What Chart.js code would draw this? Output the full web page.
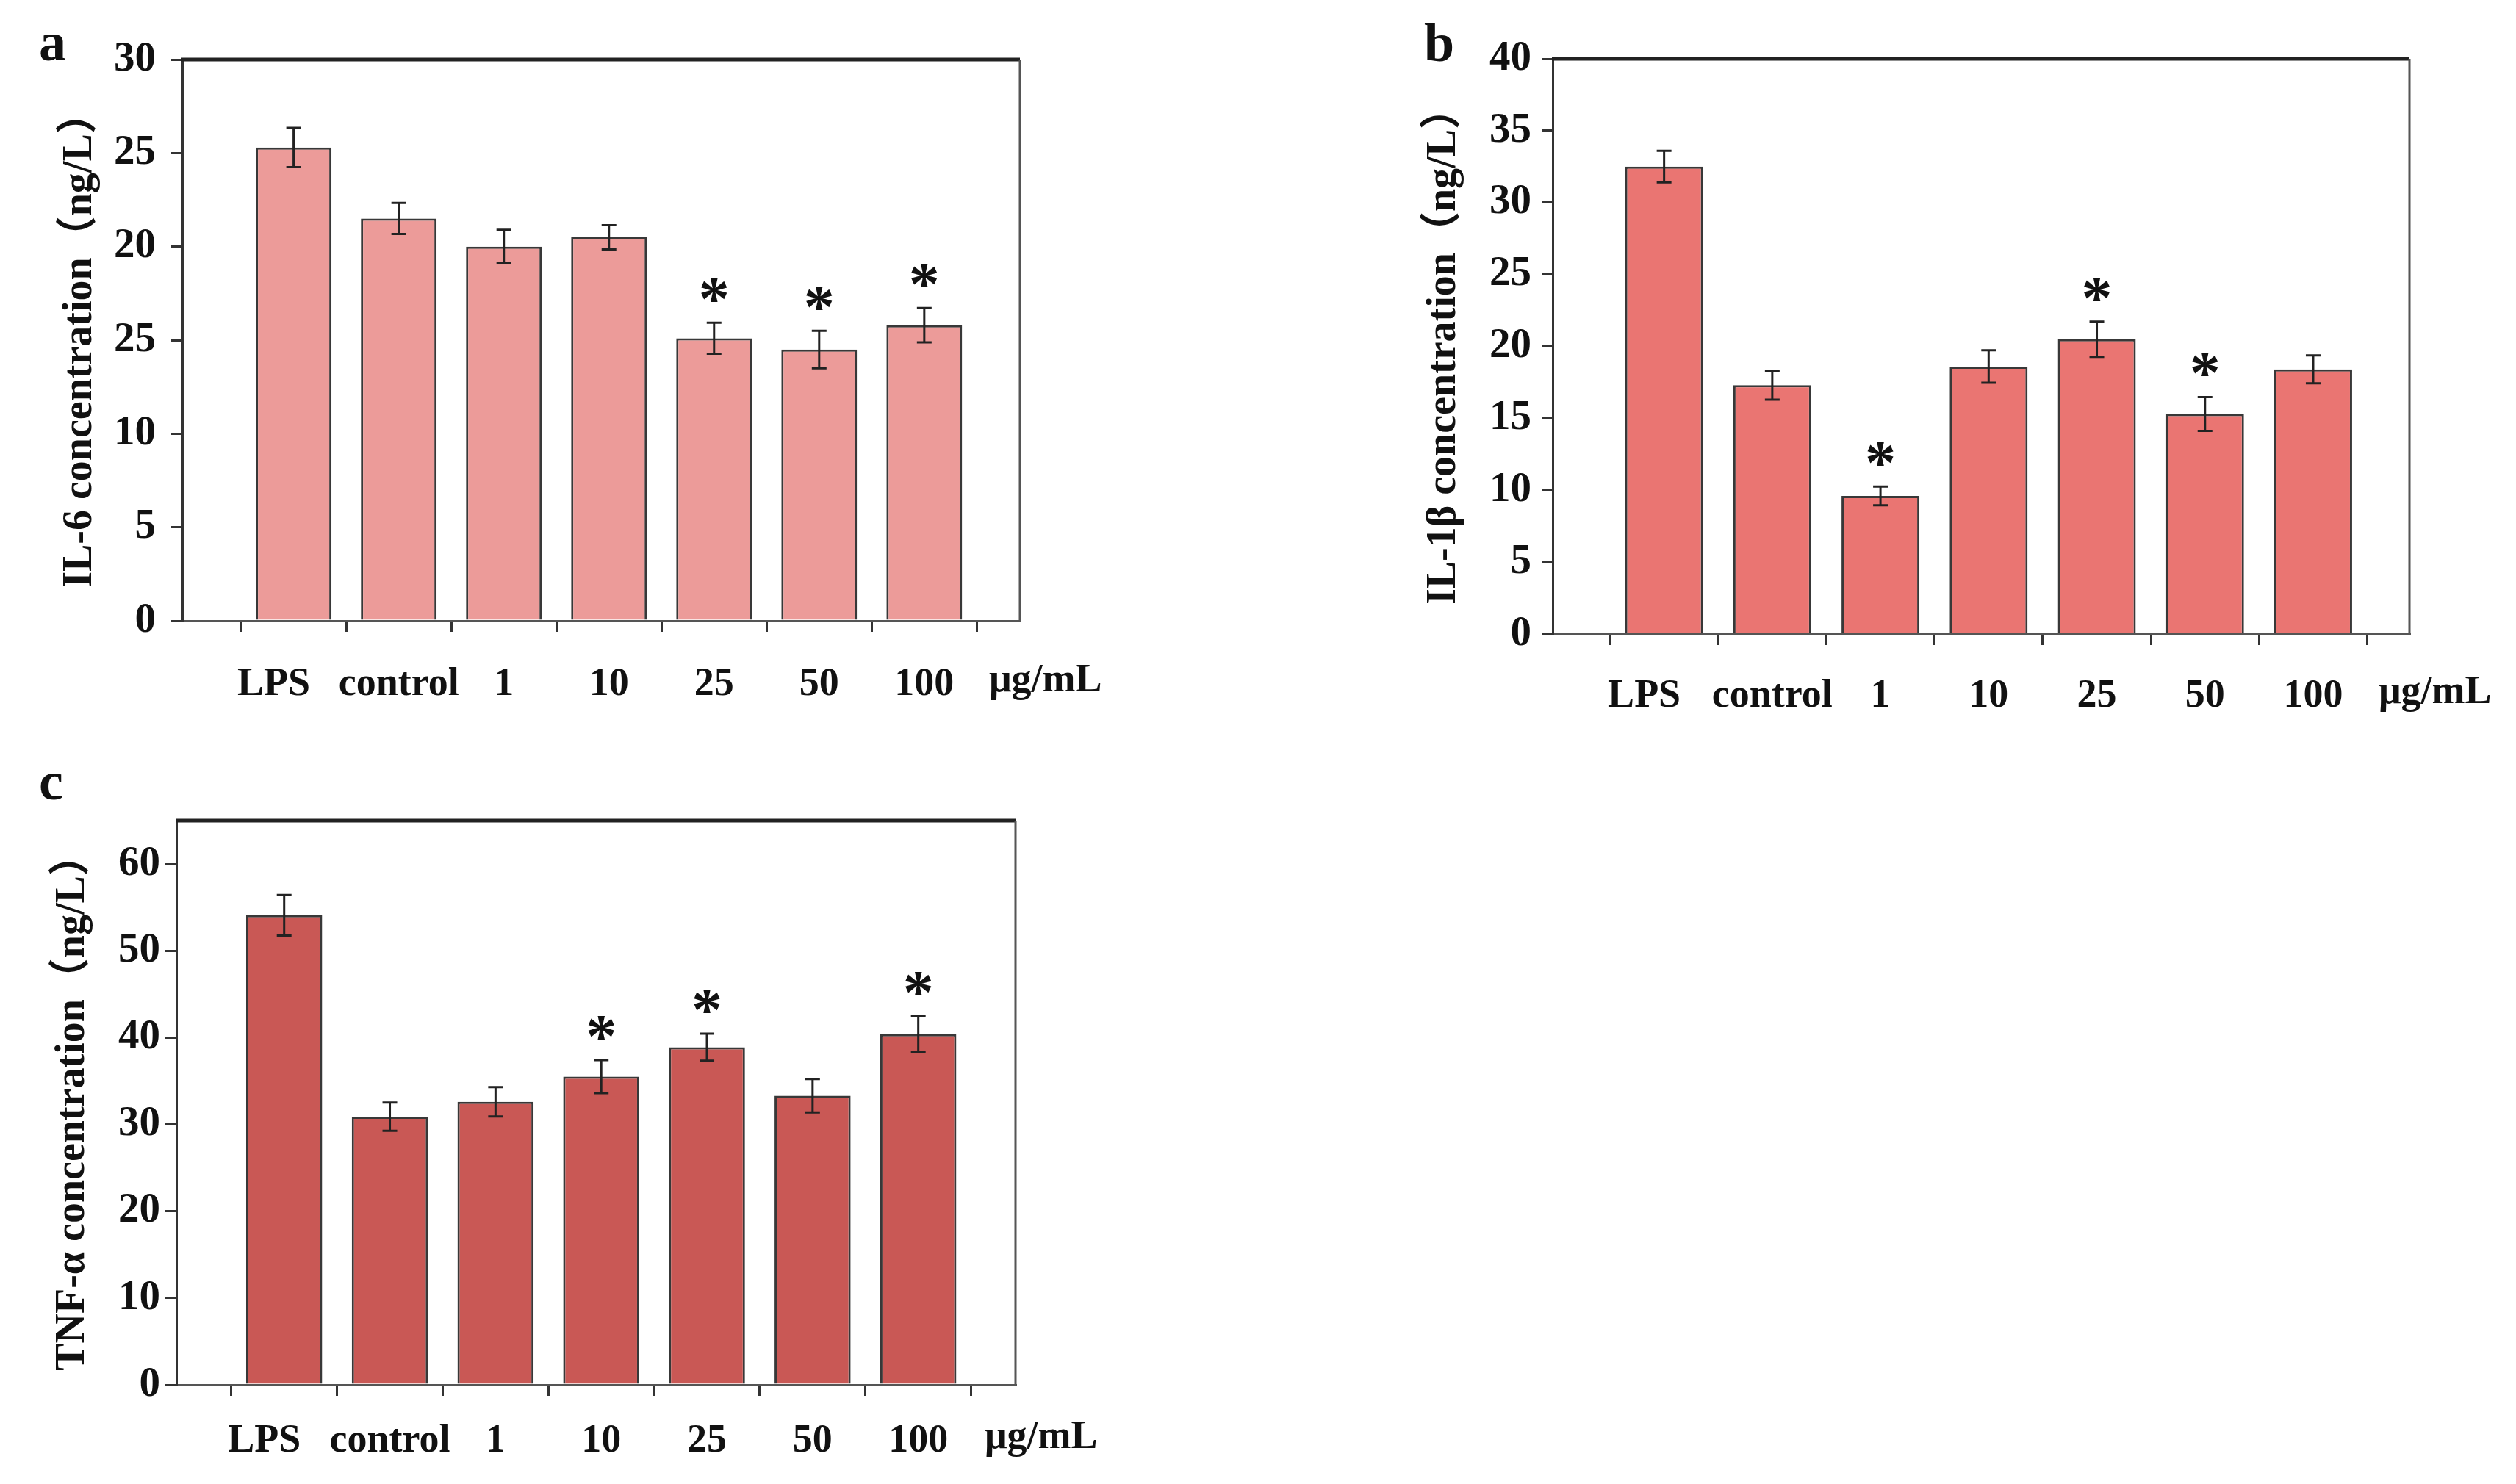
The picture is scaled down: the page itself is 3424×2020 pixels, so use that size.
<!DOCTYPE html>
<html>
<head>
<meta charset="utf-8">
<title>IL-6, IL-1β and TNF-α concentration</title>
<script src="https://cdn.jsdelivr.net/npm/chart.js"></script>
<style>
  body { margin: 0; background: #fff; width: 3424px; height: 2020px; position: relative; overflow: hidden; }
  canvas { position: absolute; }
</style>
</head>
<body>
<canvas id="chartA" width="1560" height="1010" style="left:0;top:0;width:1560px;height:1010px"></canvas>
<canvas id="chartB" width="1724" height="1010" style="left:1700px;top:0;width:1724px;height:1010px"></canvas>
<canvas id="chartC" width="1560" height="1010" style="left:0;top:1010px;width:1560px;height:1010px"></canvas>
<script>
// groups on the x axis
const groups = ['LPS', 'control', '1', '10', '25', '50', '100'];

// panel a: IL-6
const il6Mean = [25.3, 21.5, 20.0, 20.5, 15.1, 14.5, 15.8];
const il6Err = [1.05, 0.83, 0.9, 0.65, 0.83, 1.0, 0.92];
const il6Star = [0, 0, 0, 0, 1, 1, 1];
const il6Ticks = [0, 5, 10, 15, 20, 25, 30];
const il6TickLabels = ['0', '5', '10', '25', '20', '25', '30'];

// panel b: IL-1β
const il1bMean = [32.5, 17.3, 9.6, 18.6, 20.5, 15.3, 18.4];
const il1bErr = [1.1, 1.0, 0.65, 1.13, 1.23, 1.18, 0.97];
const il1bStar = [0, 0, 1, 0, 1, 1, 0];
const il1bTicks = [0, 5, 10, 15, 20, 25, 30, 35, 40];
const il1bTickLabels = ['0', '5', '10', '15', '20', '25', '30', '35', '40'];

// panel c: TNF-α
const tnfMean = [54.1, 30.9, 32.6, 35.5, 38.9, 33.3, 40.4];
const tnfErr = [2.34, 1.63, 1.69, 1.9, 1.55, 1.93, 2.07];
const tnfStar = [0, 0, 0, 1, 1, 0, 1];
const tnfTicks = [0, 10, 20, 30, 40, 50, 60];
const tnfTickLabels = ['0', '10', '20', '30', '40', '50', '60'];

const SERIF = '"Liberation Serif", "Times New Roman", "Noto Sans CJK SC", serif';
const Y_TICK_SIZE = 57;
const X_TICK_SIZE = 54;

function extrasPlugin(cfg) {
    return {
        id: 'extras',
        afterDatasetsDraw(chart) {
            const ctx = chart.ctx;
            const area = chart.chartArea;
            const x = chart.scales.x, y = chart.scales.y;
            ctx.save();

            // error bars + significance stars
            ctx.strokeStyle = '#222';
            ctx.lineWidth = 3;
            cfg.mean.forEach((m, i) => {
                const px = x.getPixelForValue(i);
                const top = y.getPixelForValue(m + cfg.err[i]);
                const bot = y.getPixelForValue(m - cfg.err[i]);
                ctx.beginPath();
                ctx.moveTo(px, top); ctx.lineTo(px, bot);
                ctx.moveTo(px - 10, top); ctx.lineTo(px + 10, top);
                ctx.moveTo(px - 10, bot); ctx.lineTo(px + 10, bot);
                ctx.stroke();
                if (cfg.star[i]) {
                    ctx.fillStyle = '#111';
                    ctx.font = 'bold 84px ' + SERIF;
                    ctx.textAlign = 'center';
                    ctx.textBaseline = 'alphabetic';
                    ctx.fillText('*', px, top - 4);
                }
            });

            // box: heavy top line, thin grey right side
            ctx.strokeStyle = '#222';
            ctx.lineWidth = 5;
            ctx.beginPath();
            ctx.moveTo(area.left - 1, area.top);
            ctx.lineTo(area.right, area.top);
            ctx.stroke();
            ctx.strokeStyle = '#555';
            ctx.lineWidth = 3;
            ctx.beginPath();
            ctx.moveTo(area.right, area.top);
            ctx.lineTo(area.right, area.bottom);
            ctx.stroke();

            // unit label and panel letter
            ctx.fillStyle = '#111';
            ctx.font = 'bold ' + X_TICK_SIZE + 'px ' + SERIF;
            ctx.textAlign = 'left';
            ctx.textBaseline = 'top';
            ctx.fillText('μg/mL', area.right - 42, area.bottom + 15 + cfg.labelPad);
            ctx.font = 'bold 74px ' + SERIF;
            ctx.textBaseline = 'alphabetic';
            ctx.fillText(cfg.letter, cfg.letterX, cfg.letterY);
            ctx.restore();
        }
    };
}

function makeChart(id, cfg) {
    const ctx = document.getElementById(id).getContext('2d');
    return new Chart(ctx, {
        type: 'bar',
        data: {
            datasets: [{
                data: groups.map((g, i) => ({ x: i, y: cfg.mean[i] })),
                backgroundColor: cfg.color,
                borderColor: '#383838',
                borderWidth: 3,
                categoryPercentage: 1,
                barPercentage: 0.72
            }]
        },
        options: {
            responsive: false,
            animation: false,
            devicePixelRatio: 1,
            layout: { padding: cfg.padding },
            plugins: { legend: { display: false }, tooltip: { enabled: false } },
            scales: {
                x: {
                    type: 'linear',
                    min: cfg.xMin,
                    max: cfg.xMax,
                    offset: false,
                    afterBuildTicks: s => { s.ticks = groups.map((g, i) => ({ value: i })); },
                    afterFit: s => { s.height = cfg.xHeight; },
                    grid: { display: true, drawOnChartArea: false, drawTicks: true, tickLength: 15, color: '#333', lineWidth: 3 },
                    border: { display: true, color: '#555', width: 3 },
                    ticks: {
                        autoSkip: false,
                        maxRotation: 0,
                        padding: cfg.labelPad,
                        color: '#111',
                        font: { family: SERIF, size: X_TICK_SIZE, weight: 'bold' },
                        // the LPS label sits a little left of its tick in the original
                        callback: (v, i) => (i === 0 ? groups[i] + '    ' : groups[i])
                    }
                },
                y: {
                    min: 0,
                    max: cfg.yMax,
                    afterBuildTicks: s => { s.ticks = cfg.ticks.map(v => ({ value: v })); },
                    afterFit: s => { s.width = cfg.yWidth; },
                    grid: { display: true, drawOnChartArea: false, drawTicks: true, tickLength: 15, color: '#333', lineWidth: 3 },
                    border: { display: true, color: '#333', width: 3 },
                    ticks: {
                        padding: cfg.yPad,
                        color: '#111',
                        font: { family: SERIF, size: Y_TICK_SIZE, weight: 'bold' },
                        callback: (v, i) => cfg.tickLabels[i]
                    },
                    title: {
                        display: true,
                        text: cfg.title,
                        color: '#111',
                        padding: { top: cfg.titlePad, bottom: 0 },
                        font: { family: SERIF, size: 56, weight: 'bold' }
                    }
                }
            }
        },
        plugins: [extrasPlugin(cfg)]
    });
}

makeChart('chartA', {
    mean: il6Mean, err: il6Err, star: il6Star, ticks: il6Ticks, tickLabels: il6TickLabels,
    color: '#ec9b99', yMax: 30, xMin: -1.06, xMax: 6.91,
    padding: { left: 0, top: 81, right: 172, bottom: 0 },
    yWidth: 248, xHeight: 165, labelPad: 40, yPad: 21, titlePad: 76,
    title: 'IL-6 concentration（ng/L）', letter: 'a', letterX: 53, letterY: 82
});

makeChart('chartB', {
    mean: il1bMean, err: il1bErr, star: il1bStar, ticks: il1bTicks, tickLabels: il1bTickLabels,
    color: '#ea7572', yMax: 40, xMin: -1.03, xMax: 6.89,
    padding: { left: 165, top: 80, right: 145, bottom: 0 },
    yWidth: 248, xHeight: 147, labelPad: 38, yPad: 14, titlePad: 67,
    title: 'IL-1β concentration（ng/L）', letter: 'b', letterX: 238, letterY: 83
});

makeChart('chartC', {
    mean: tnfMean, err: tnfErr, star: tnfStar, ticks: tnfTicks, tickLabels: tnfTickLabels,
    color: '#c95855', yMax: 65, xMin: -1.02, xMax: 6.92,
    padding: { left: 0, top: 107, right: 178, bottom: 0 },
    yWidth: 240, xHeight: 135, labelPad: 30, yPad: 7, titlePad: 66,
    title: 'TNF-α concentration（ng/L）', letter: 'c', letterX: 53, letterY: 78
});
</script>
</body>
</html>
